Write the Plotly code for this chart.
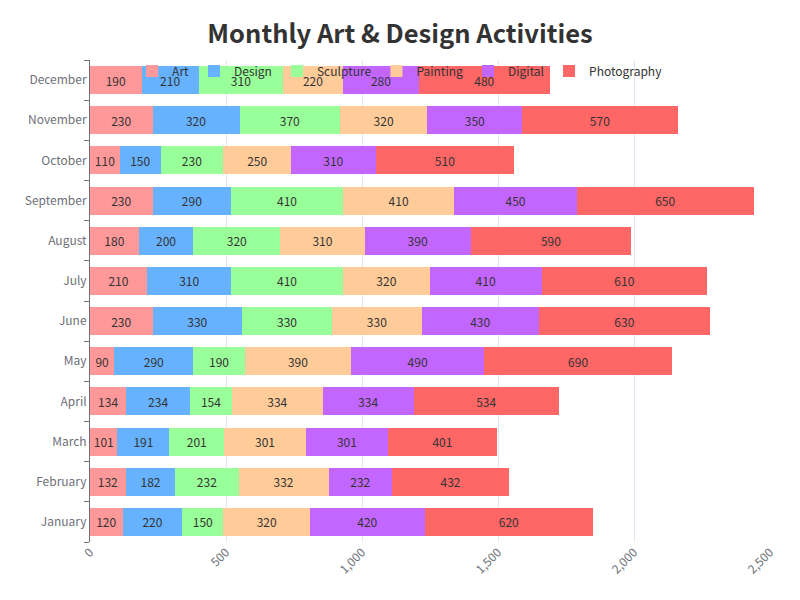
import plotly.graph_objects as go

months = ["January", "February", "March", "April", "May", "June", "July",
          "August", "September", "October", "November", "December"]
series_names = ["Art", "Design", "Sculpture", "Painting", "Digital", "Photography"]
art = [120, 132, 101, 134, 90, 230, 210, 180, 230, 110, 230, 190]
design = [220, 182, 191, 234, 290, 330, 310, 200, 290, 150, 320, 210]
sculpture = [150, 232, 201, 154, 190, 330, 410, 320, 410, 230, 370, 310]
painting = [320, 332, 301, 334, 390, 330, 320, 310, 410, 250, 320, 220]
digital = [420, 232, 301, 334, 490, 430, 410, 390, 450, 310, 350, 280]
photography = [620, 432, 401, 534, 690, 630, 610, 590, 650, 510, 570, 480]
colors = ["#FF9999", "#66B2FF", "#99FF99", "#FFCC99", "#C266FF", "#FF6666"]

data = [art, design, sculpture, painting, digital, photography]

fig = go.Figure()
for name, vals, c in zip(series_names, data, colors):
    fig.add_trace(go.Bar(
        y=months, x=vals, name=name, orientation="h",
        marker=dict(color=c, line=dict(width=0)),
        text=vals, textposition="inside", insidetextanchor="middle",
        textfont=dict(size=12, color="#333333"),
        hoverinfo="x+name",
    ))

fig.update_layout(
    barmode="stack",
    bargap=0.3,
    width=800, height=600,
    margin=dict(l=90, r=30, t=60, b=58),
    paper_bgcolor="white", plot_bgcolor="white",
    font=dict(family="Noto Sans CJK SC, Noto Sans, sans-serif", color="#666666", size=12),
    title=dict(text="<b>Monthly Art & Design Activities</b>", x=0.5, xanchor="center",
               y=0.943, yanchor="middle",
               font=dict(size=25.5, color="#333333")),
    legend=dict(orientation="h", x=0.456, xanchor="center",
                y=0.977, yanchor="middle",
                bgcolor="rgba(0,0,0,0)", font=dict(size=12, color="#333333"),
                traceorder="normal", itemwidth=30),
    uniformtext=dict(minsize=8, mode="show"),
)
fig.update_xaxes(range=[0, 2500], dtick=500, tickformat=",", tickangle=-45,
                 showgrid=True, gridcolor="#E0E6F1", zeroline=False,
                 showline=False, ticks="", tickfont=dict(color="#6E7079", size=12))
fig.update_yaxes(showline=True, linecolor="#6E7079", ticks="outside", tickson="boundaries",
                 ticklen=5, tickcolor="#6E7079", showgrid=False,
                 tickfont=dict(color="#6E7079", size=12))

fig.write_html("out.html")
